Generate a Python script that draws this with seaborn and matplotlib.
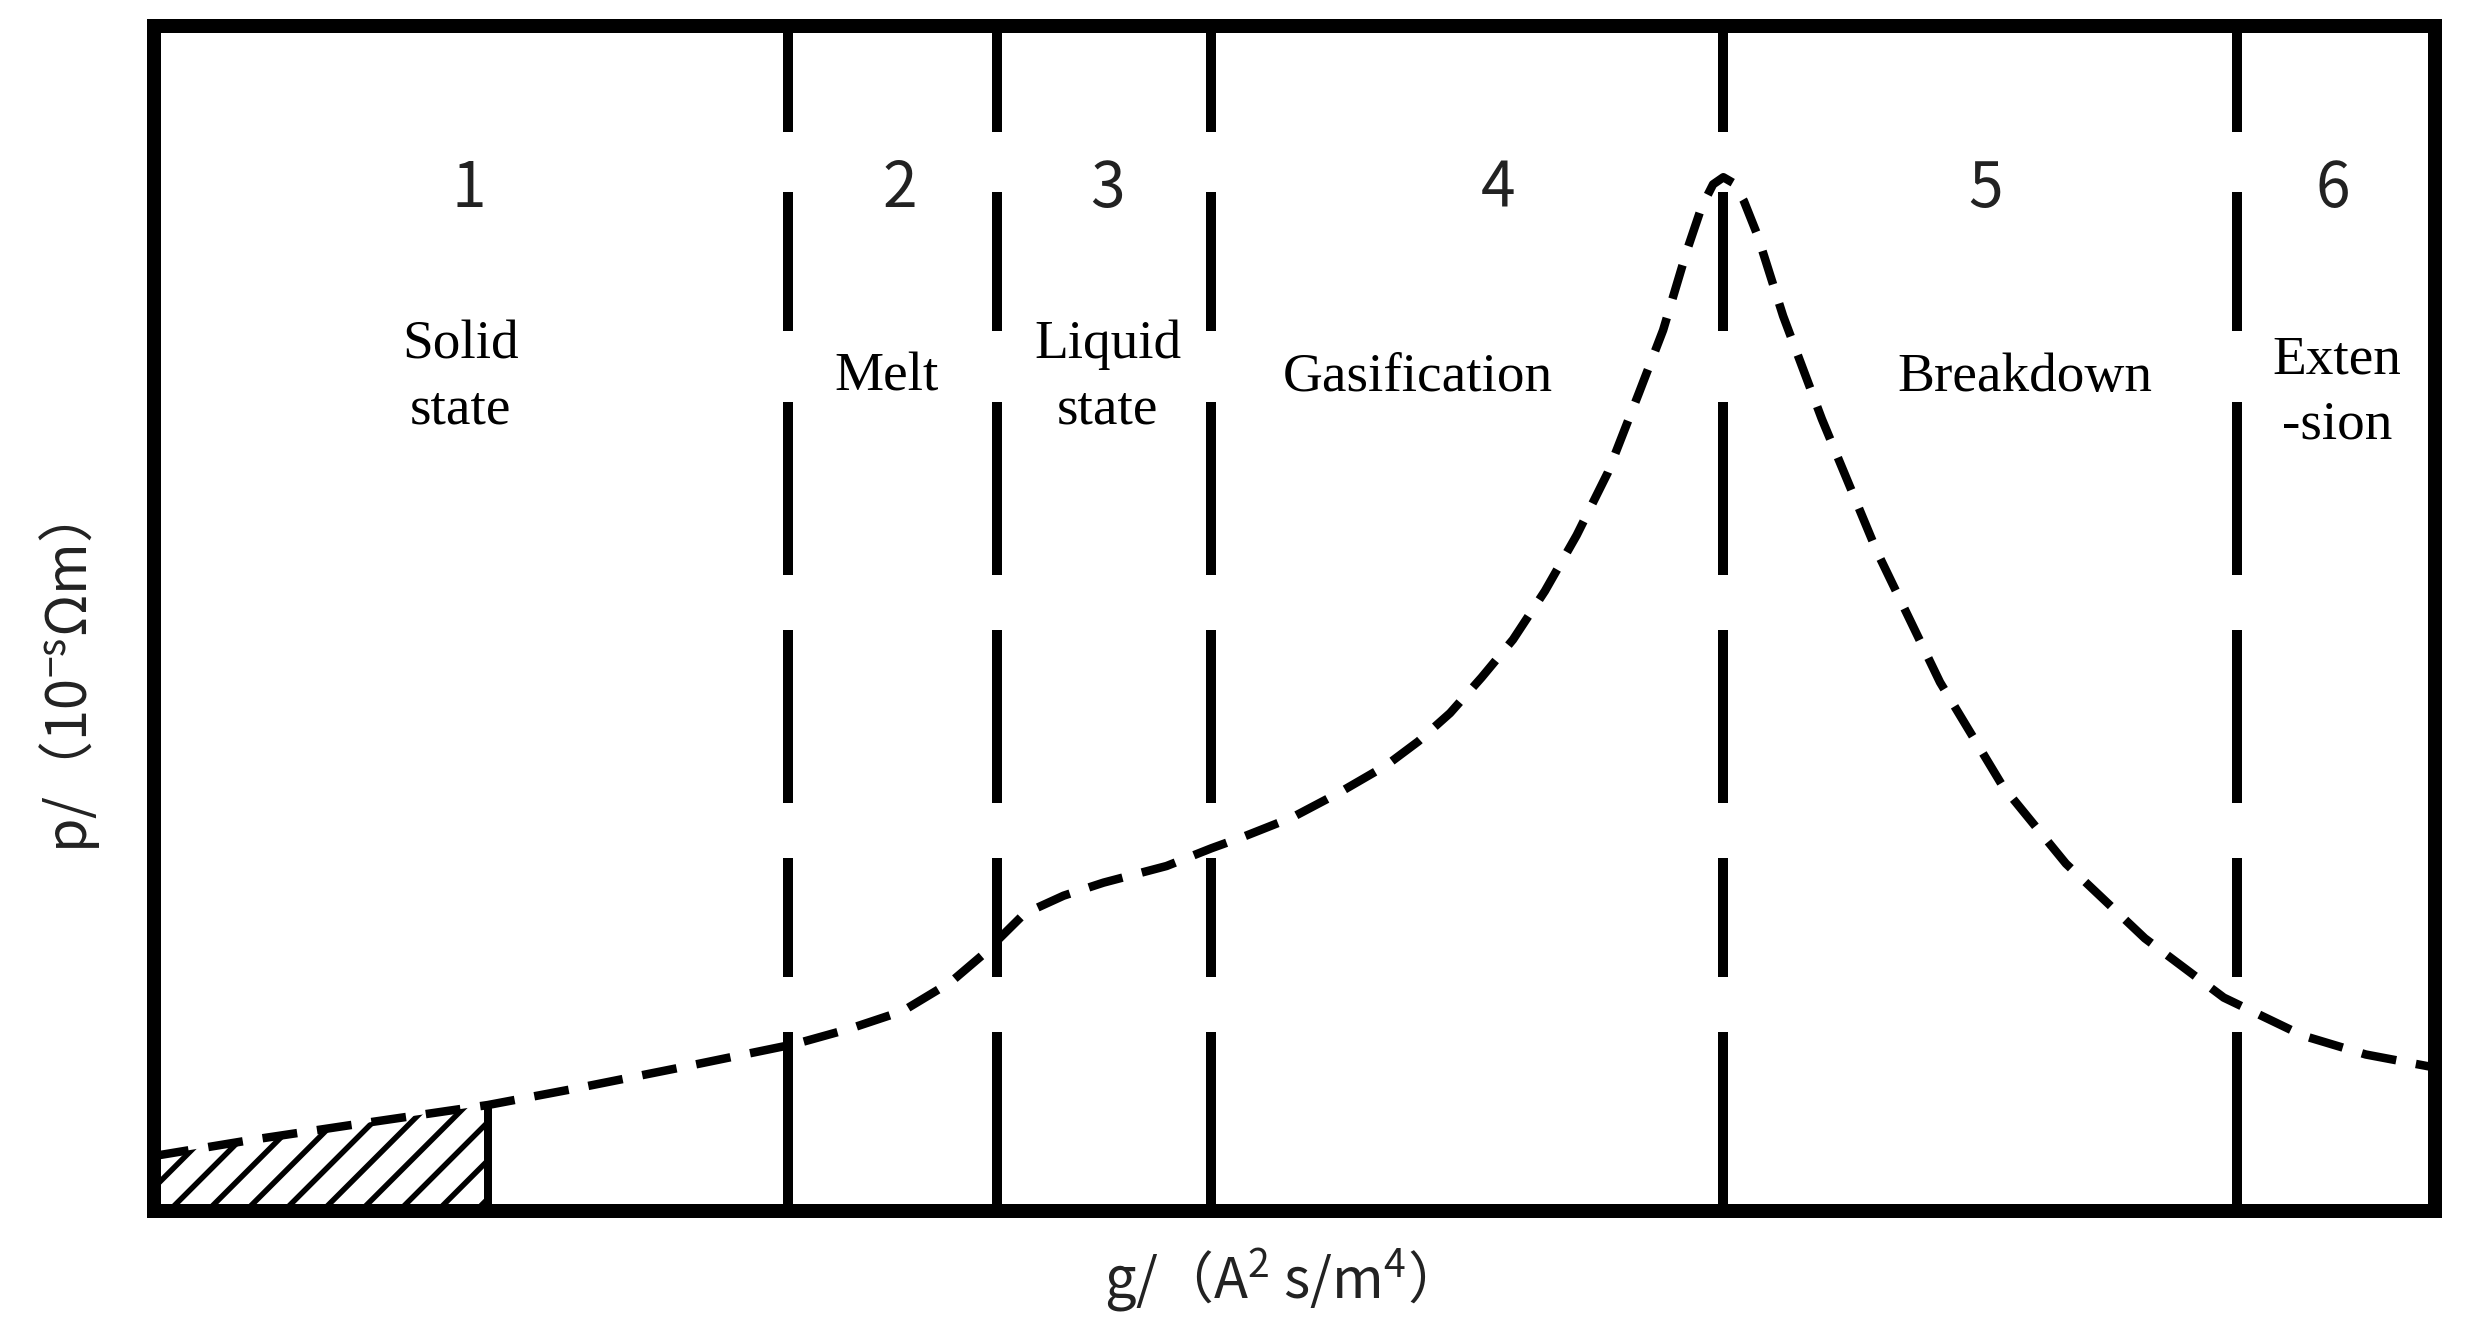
import matplotlib
matplotlib.use("Agg")
import matplotlib.pyplot as plt
import seaborn as sns
import pandas as pd

# ---------------- data (arbitrary units 0-100) -------------
curve_g = [0.0, 4.25, 8.63, 14.64, 18.36, 23.18, 28.09, 30.46, 32.82, 34.93, 36.37,
           38.17, 39.88, 41.63, 44.39, 46.36, 47.80, 49.90, 51.97, 54.03, 55.42,
           56.82, 58.20, 59.58, 60.98, 62.37, 63.74, 65.10, 66.16, 67.20, 67.85,
           68.35, 68.80, 69.25, 69.70, 70.30, 71.42, 73.12, 75.54, 78.30, 81.06,
           83.82, 87.28, 90.74, 94.20, 96.97, 100.0]
curve_p = [4.64, 5.99, 7.25, 8.94, 10.29, 12.14, 14.08, 15.35, 16.86, 19.31, 21.67,
           25.10, 26.60, 27.70, 29.10, 30.60, 31.60, 33.20, 35.30, 37.60, 39.60,
           42.00, 45.00, 48.20, 52.30, 57.00, 62.30, 69.00, 74.30, 81.00, 84.70,
           86.60, 87.20, 86.70, 85.20, 82.30, 75.50, 66.80, 55.60, 44.60, 35.80,
           29.30, 23.00, 18.00, 14.80, 13.20, 12.10]
phase_bounds = [27.78, 36.94, 46.36, 68.80, 91.32]
phase_numbers = ["1", "2", "3", "4", "5", "6"]
phase_names = ["Solid\nstate", "Melt", "Liquid\nstate", "Gasification",
               "Breakdown", "Exten\n-sion"]
hatch_end_g = 14.64   # end of the hatched (solid) zone

x_label = "g/（A$^2$ s/m$^4$）"
y_label = "p/（10$^{-s}$Ωm）"

# ---------------- layout (label anchors in axis units) ----------------
number_x = [13.8, 32.7, 41.8, 58.9, 80.3, 95.5]
number_y = 86.2
name_x = [13.45, 32.1, 41.8, 55.4, 82.0, 95.7]
name_y = [70.3, 70.3, 70.3, 70.3, 70.3, 69.0]

DPI = 230
PX = 72.0 / DPI  # points per pixel

sns.set_theme(style="white")
plt.rcParams["font.family"] = ["Noto Sans CJK SC", "DejaVu Sans"]
plt.rcParams["mathtext.default"] = "regular"
plt.rcParams["lines.scale_dashes"] = False
plt.rcParams["hatch.linewidth"] = 5.5 * PX
plt.rcParams["hatch.color"] = "black"

fig = plt.figure(figsize=(2470 / DPI, 1331 / DPI), dpi=DPI)
ax = fig.add_axes([154 / 2470, 1 - 1211 / 1331, (2435 - 154) / 2470, (1211 - 25.5) / 1331])

df = pd.DataFrame({"g": curve_g, "p": curve_p})

# hatched solid-state zone
sub = df[df["g"] <= hatch_end_g]
ax.fill_between(sub["g"], sub["p"], 0, facecolor="none", edgecolor="black",
                linewidth=0, hatch="//", zorder=1)
h_top = sub["p"].iloc[-1]
ax.plot([hatch_end_g, hatch_end_g], [0, h_top], color="black", lw=8 * PX,
        solid_capstyle="butt", zorder=2)

# phase boundaries (hand-drawn long dashes)
vdash = tuple(v * PX for v in [106, 60, 139, 71, 173, 55, 173, 55, 119, 55, 185, 20])
for xb in phase_bounds:
    ax.plot([xb, xb], [100, 0], color="black", lw=10 * PX,
            linestyle=(0, vdash), dash_capstyle="butt", zorder=2)

# resistivity curve
sns.lineplot(data=df, x="g", y="p", ax=ax, color="black", lw=8.5 * PX,
             estimator=None, sort=False, zorder=3)
ax.lines[-1].set_linestyle((0, (35 * PX, 20 * PX)))
ax.lines[-1].set_dash_capstyle("butt")
ax.lines[-1].set_solid_joinstyle("round")

# texts
for xn, s in zip(number_x, phase_numbers):
    ax.text(xn, number_y, s, ha="center", va="center", fontsize=19.5,
            family=["Noto Sans CJK SC", "DejaVu Sans"], color="#222222")
for xn, yn, s in zip(name_x, name_y, phase_names):
    ax.text(xn, yn, s, ha="center", va="center", fontsize=17.3, linespacing=1.38,
            family=["Liberation Serif", "DejaVu Serif"], color="black")

ax.set_xlim(0, 100)
ax.set_ylim(0, 100)
ax.set_xticks([])
ax.set_yticks([])
for sp in ax.spines.values():
    sp.set_visible(True)
    sp.set_color("black")
    sp.set_linewidth(14 * PX)

ax.set_xlabel(x_label, fontsize=17.5, color="#222222")
ax.set_ylabel(y_label, fontsize=17.5, color="#222222")
ax.xaxis.set_label_coords(0.487, -0.030)
ax.yaxis.set_label_coords(-0.023, 0.441)

fig.savefig("out.png", dpi=DPI, facecolor="white")
